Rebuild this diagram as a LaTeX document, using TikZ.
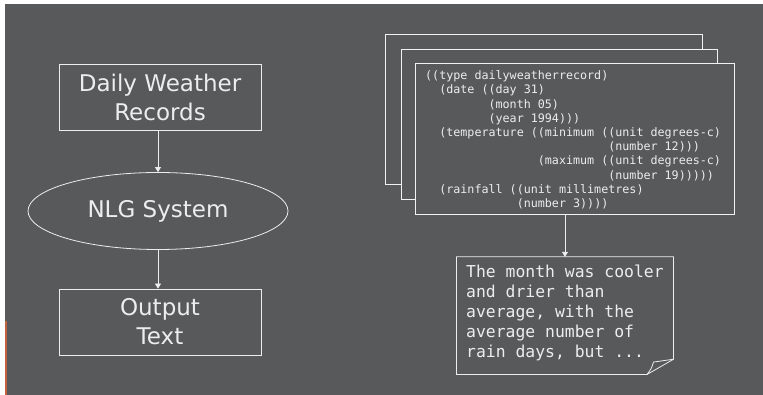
\documentclass[tikz,border=0pt]{standalone}
\usepackage{fontspec}
\setmainfont{DejaVu Sans}
\newfontfamily\codefont{DejaVu Sans Mono}
\usetikzlibrary{shapes.geometric,arrows.meta,calc}
\definecolor{slate}{HTML}{58595B}
\definecolor{ink}{HTML}{EDEDED}
\definecolor{edge}{HTML}{F2F2F2}
\definecolor{accent}{HTML}{C0613F}
% blank of n monospace characters
\newcommand\skipch[1]{\hspace*{\dimexpr#1\fontcharwd\font`x\relax}}
\tikzset{
  flowbox/.style={draw=ink, line width=0.8pt, text=ink, minimum width=202pt,
    minimum height=66pt, align=center, inner sep=0pt,
    font=\fontsize{23}{29}\selectfont},
  flowoval/.style={ellipse, draw=ink, line width=0.8pt, text=ink, minimum width=260pt,
    minimum height=77pt, inner sep=0pt, font=\fontsize{23}{29}\selectfont},
  sheet/.style={draw=edge, line width=1pt, fill=slate},
  flowarrow/.style={draw=ink, line width=0.8pt, -{Triangle[width=6pt,length=5pt]}},
  codetext/.style={text=ink, align=left, inner sep=0pt, anchor=north west,
    font=\codefont\fontsize{11.7}{14.2}\selectfont},
  notetext/.style={text=ink, align=left, inner sep=0pt, anchor=north west,
    font=\codefont\fontsize{16.4}{20}\selectfont}
}
\begin{document}
\begin{tikzpicture}[x=1pt,y=-1pt]
\useasboundingbox (0,0) rectangle (763,395);
\fill[white] (0,0) rectangle (763,395);
\fill[slate] (5,4) rectangle (763,395);
\draw[accent, line width=1.5pt] (5.75,321) -- (5.75,395);

% pipeline on the left
\node[flowbox] (records) at (160,97) {Daily Weather\\Records};
\node[flowoval] (nlg) at (158,211) {NLG System};
\node[flowbox] (output) at (160,322) {Output\\Text};
\draw[flowarrow] (records.south -| nlg.north) -- (nlg.north);
\draw[flowarrow] (nlg.south) -- (nlg.south |- output.north);

% stack of record sheets
\draw[sheet] (385,35) rectangle (702,185);
\draw[sheet] (401,49.5) rectangle (717.5,200);
\node[sheet, minimum width=319pt, minimum height=151pt, inner sep=0pt]
  (rec) at (574.5,138.8) {};
\node[codetext] (code) at (425,70.5) {%
((type dailyweatherrecord)\\
\skipch{2}(date ((day 31)\\
\skipch{9}(month 05)\\
\skipch{9}(year 1994)))\\
\skipch{2}(temperature ((minimum ((unit degrees-c)\\
\skipch{26}(number 12)))\\
\skipch{16}(maximum ((unit degrees-c)\\
\skipch{26}(number 19)))))\\
\skipch{2}(rainfall ((unit millimetres)\\
\skipch{13}(number 3))))};

% generated text on a dog-eared note
\node[minimum width=216.6pt, minimum height=117.3pt, inner sep=0pt]
  (note) at (565,315.7) {};
\draw[draw=ink, line width=0.8pt]
  (note.north west) -- (note.north east) -- ($(note.south east)+(0,-15.3)$)
  -- ($(note.south east)+(-26.6,0)$) -- (note.south west) -- cycle;
\draw[draw=ink, line width=0.8pt]
  ($(note.south east)+(-26.6,0)$) .. controls ($(note.south east)+(-22,-6)$) ..
  ($(note.south east)+(-20,-12.5)$) -- ($(note.south east)+(0,-15.3)$);
\node[notetext] (summary) at (466,265) {%
The month was cooler\\
and drier than\\
average, with the\\
average number of\\
rain days, but ...};
\draw[flowarrow] (rec.south -| note.north) -- (note.north);
\end{tikzpicture}
\end{document}
